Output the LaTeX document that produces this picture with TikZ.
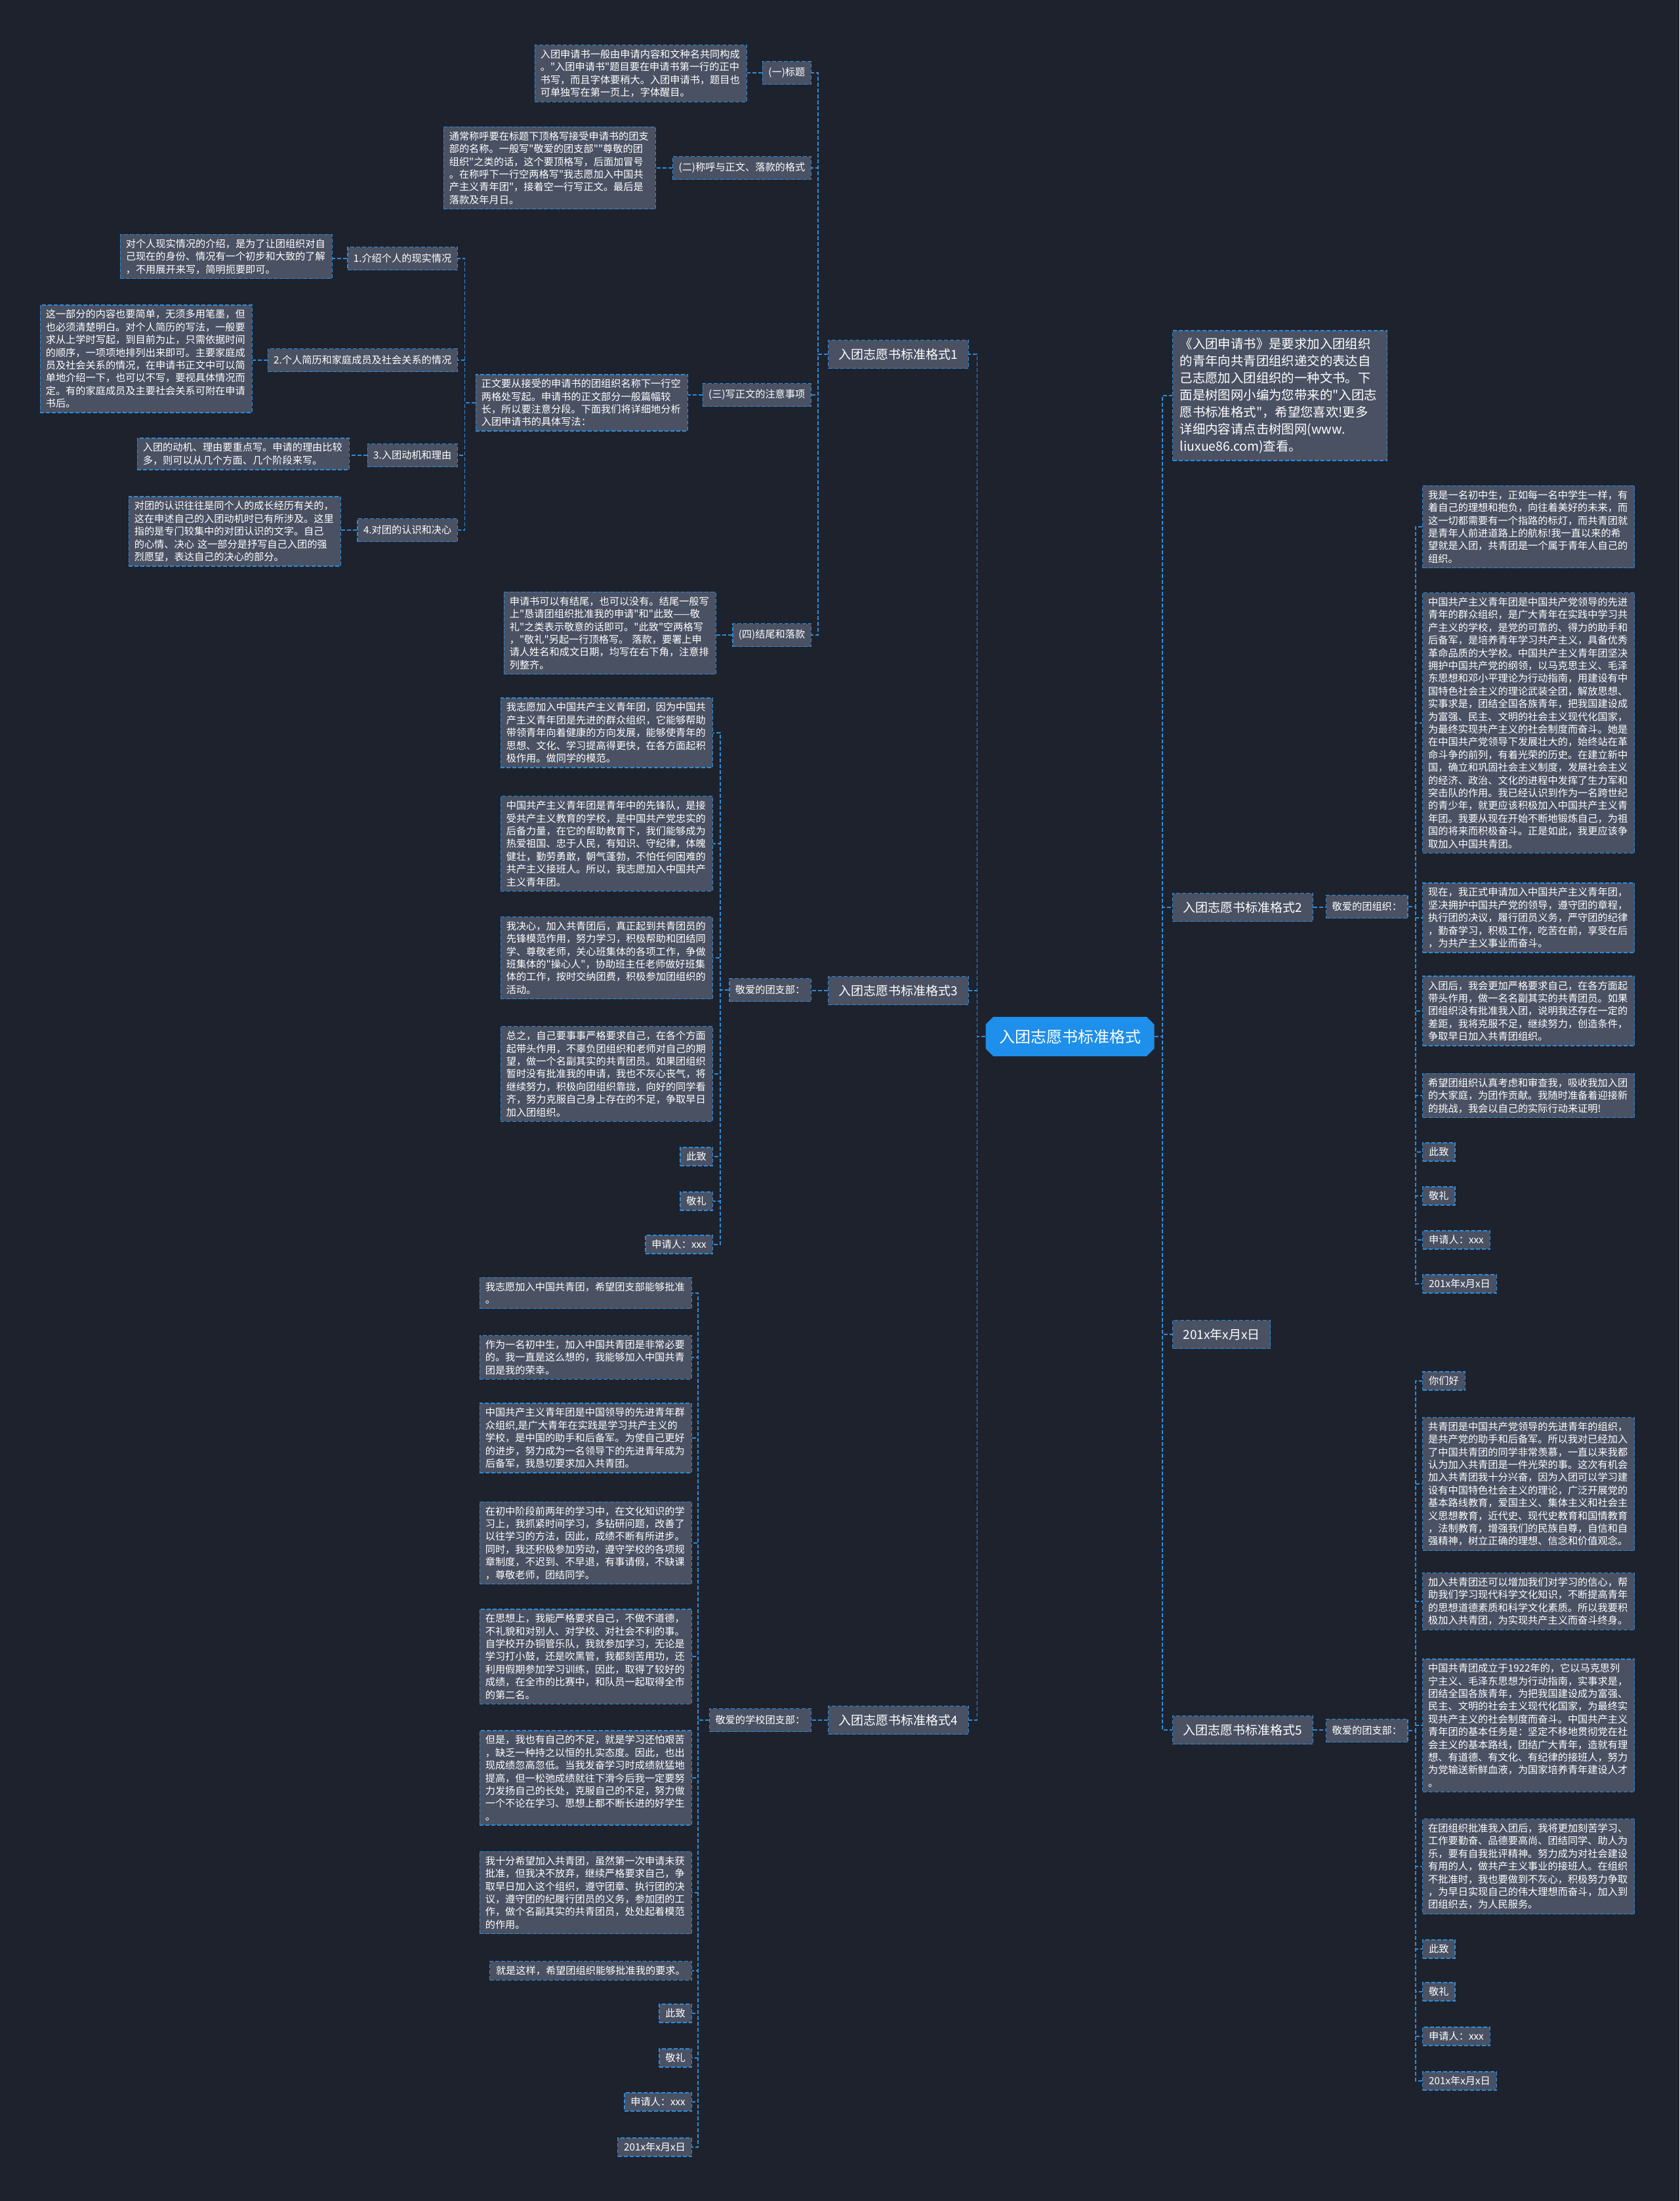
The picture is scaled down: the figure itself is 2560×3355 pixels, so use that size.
\documentclass[tikz,border=0pt]{standalone}
\usepackage{fontspec}
\setmainfont{Noto Sans CJK SC}[Ligatures=TeXOff]
\usetikzlibrary{shapes.misc}
\definecolor{bgdark}{HTML}{1E222D}
\definecolor{boxgray}{HTML}{4A5163}
\definecolor{edgeblue}{HTML}{2B8CD9}
\definecolor{rootblue}{HTML}{1E8FEA}

\begin{document}
\begin{tikzpicture}[x=1pt,y=-1pt,
  link/.style={edgeblue,line width=1.6pt,dash pattern=on 6pt off 3pt},
  box/.style={draw=edgeblue,line width=1.4pt,dash pattern=on 6pt off 3pt,fill=boxgray,text=white},
  para/.style={box,font=\fontsize{15.2pt}{19.4pt}\selectfont,text width=306pt,align=left,inner xsep=8.5pt,inner ysep=7pt},
  word/.style={box,font=\fontsize{15.2pt}{19.4pt}\selectfont,inner xsep=9.5pt,inner ysep=7pt},
  tag/.style={box,font=\fontsize{15.2pt}{18pt}\selectfont,inner xsep=9pt,minimum height=35pt},
  branch/.style={box,font=\fontsize{19pt}{23pt}\selectfont,inner xsep=16pt,minimum height=43pt},
  hub/.style={chamfered rectangle,chamfered rectangle xsep=8pt,fill=rootblue,text=white,
    font=\fontsize{24pt}{28pt}\selectfont,minimum width=257pt,minimum height=60pt}]
  \useasboundingbox (0,0) rectangle (2560,3355);
  \fill[bgdark] (0,0) rectangle (2560,3355);

  % root
  \node[hub] (main) at (1631,1580) {入团志愿书标准格式};

  % branch 1
  \node[branch,anchor=east] (fmtone) at (1477,540) {入团志愿书标准格式1};
  \node[tag,anchor=east] (title) at (1237,111) {(一)标题};
  \node[para,anchor=east] (titletxt) at (1139,112) {入团申请书一般由申请内容和文种名共同构成\\。"入团申请书"题目要在申请书第一行的正中\\书写，而且字体要稍大。入团申请书，题目也\\可单独写在第一页上，字体醒目。};
  \node[tag,anchor=east] (salut) at (1237,256) {(二)称呼与正文、落款的格式};
  \node[para,anchor=east] (saluttxt) at (1000,256) {通常称呼要在标题下顶格写接受申请书的团支\\部的名称。一般写"敬爱的团支部""尊敬的团\\组织"之类的话，这个要顶格写，后面加冒号\\。在称呼下一行空两格写"我志愿加入中国共\\产主义青年团"，接着空一行写正文。最后是\\落款及年月日。};
  \node[tag,anchor=east] (body) at (1237,602) {(三)写正文的注意事项};
  \node[para,anchor=east] (bodytxt) at (1049,614) {正文要从接受的申请书的团组织名称下一行空\\两格处写起。申请书的正文部分一般篇幅较\\长，所以要注意分段。下面我们将详细地分析\\入团申请书的具体写法：};
  \node[tag,anchor=east] (partone) at (698,394) {1.介绍个人的现实情况};
  \node[para,anchor=east] (parttxtone) at (507,391) {对个人现实情况的介绍，是为了让团组织对自\\己现在的身份、情况有一个初步和大致的了解\\，不用展开来写，简明扼要即可。};
  \node[tag,anchor=east] (parttwo) at (698,549) {2.个人简历和家庭成员及社会关系的情况};
  \node[para,anchor=east] (parttxttwo) at (385,547) {这一部分的内容也要简单，无须多用笔墨，但\\也必须清楚明白。对个人简历的写法，一般要\\求从上学时写起，到目前为止，只需依据时间\\的顺序，一项项地排列出来即可。主要家庭成\\员及社会关系的情况，在申请书正文中可以简\\单地介绍一下，也可以不写，要视具体情况而\\定。有的家庭成员及主要社会关系可附在申请\\书后。};
  \node[tag,anchor=east] (partthree) at (698,694) {3.入团动机和理由};
  \node[para,anchor=east] (parttxtthree) at (533,692) {入团的动机、理由要重点写。申请的理由比较\\多，则可以从几个方面、几个阶段来写。};
  \node[tag,anchor=east] (partfour) at (698,808) {4.对团的认识和决心};
  \node[para,anchor=east] (parttxtfour) at (520,810) {对团的认识往往是同个人的成长经历有关的，\\这在申述自己的入团动机时已有所涉及。这里\\指的是专门较集中的对团认识的文字。自己\\的心情、决心 这一部分是抒写自己入团的强\\烈愿望，表达自己的决心的部分。};
  \node[tag,anchor=east] (ending) at (1237,968) {(四)结尾和落款};
  \node[para,anchor=east] (endingtxt) at (1092,965) {申请书可以有结尾，也可以没有。结尾一般写\\上"恳请团组织批准我的申请"和"此致——敬\\礼"之类表示敬意的话即可。"此致"空两格写\\，"敬礼"另起一行顶格写。 落款，要署上申\\请人姓名和成文日期，均写在右下角，注意排\\列整齐。};

  % branch 3
  \node[branch,anchor=east] (fmtthree) at (1477,1510) {入团志愿书标准格式3};
  \node[tag,anchor=east] (dearthree) at (1237,1509) {敬爱的团支部：};
  \node[para,anchor=east] (lettera) at (1087,1117) {我志愿加入中国共产主义青年团，因为中国共\\产主义青年团是先进的群众组织，它能够帮助\\带领青年向着健康的方向发展，能够使青年的\\思想、文化、学习提高得更快，在各方面起积\\极作用。做同学的模范。};
  \node[para,anchor=east] (letterb) at (1087,1286) {中国共产主义青年团是青年中的先锋队，是接\\受共产主义教育的学校，是中国共产党忠实的\\后备力量，在它的帮助教育下，我们能够成为\\热爱祖国、忠于人民，有知识、守纪律，体魄\\健壮，勤劳勇敢，朝气蓬勃，不怕任何困难的\\共产主义接班人。所以，我志愿加入中国共产\\主义青年团。};
  \node[para,anchor=east] (letterc) at (1087,1460) {我决心，加入共青团后，真正起到共青团员的\\先锋模范作用，努力学习，积极帮助和团结同\\学、尊敬老师，关心班集体的各项工作，争做\\班集体的"操心人"，协助班主任老师做好班集\\体的工作，按时交纳团费，积极参加团组织的\\活动。};
  \node[para,anchor=east] (letterd) at (1087,1637) {总之，自己要事事严格要求自己，在各个方面\\起带头作用，不辜负团组织和老师对自己的期\\望，做一个名副其实的共青团员。如果团组织\\暂时没有批准我的申请，我也不灰心丧气，将\\继续努力，积极向团组织靠拢，向好的同学看\\齐，努力克服自己身上存在的不足，争取早日\\加入团组织。};
  \node[word,anchor=east] (greetthree) at (1087,1763) {此致};
  \node[word,anchor=east] (salutethree) at (1087,1831) {敬礼};
  \node[word,anchor=east] (signthree) at (1087,1897) {申请人：xxx};

  % branch 4
  \node[branch,anchor=east] (fmtfour) at (1477,2622) {入团志愿书标准格式4};
  \node[tag,anchor=east] (dearfour) at (1237,2622) {敬爱的学校团支部：};
  \node[para,anchor=east] (schoola) at (1055,1971) {我志愿加入中国共青团，希望团支部能够批准\\。};
  \node[para,anchor=east] (schoolb) at (1055,2069) {作为一名初中生，加入中国共青团是非常必要\\的。我一直是这么想的，我能够加入中国共青\\团是我的荣幸。};
  \node[para,anchor=east] (schoolc) at (1055,2192) {中国共产主义青年团是中国领导的先进青年群\\众组织,是广大青年在实践是学习共产主义的\\学校，是中国的助手和后备军。为使自己更好\\的进步，努力成为一名领导下的先进青年成为\\后备军，我恳切要求加入共青团。};
  \node[para,anchor=east] (schoold) at (1055,2352) {在初中阶段前两年的学习中，在文化知识的学\\习上，我抓紧时间学习，多钻研问题，改善了\\以往学习的方法，因此，成绩不断有所进步。\\同时，我还积极参加劳动，遵守学校的各项规\\章制度，不迟到、不早退，有事请假，不缺课\\，尊敬老师，团结同学。};
  \node[para,anchor=east] (schoole) at (1055,2525) {在思想上，我能严格要求自己，不做不道德，\\不礼貌和对别人、对学校、对社会不利的事。\\自学校开办铜管乐队，我就参加学习，无论是\\学习打小鼓，还是吹黑管，我都刻苦用功，还\\利用假期参加学习训练，因此，取得了较好的\\成绩，在全市的比赛中，和队员一起取得全市\\的第二名。};
  \node[para,anchor=east] (schoolf) at (1055,2710) {但是，我也有自己的不足，就是学习还怕艰苦\\，缺乏一种持之以恒的扎实态度。因此，也出\\现成绩忽高忽低。当我发奋学习时成绩就猛地\\提高，但一松弛成绩就往下滑今后我一定要努\\力发扬自己的长处，克服自己的不足，努力做\\一个不论在学习、思想上都不断长进的好学生\\。};
  \node[para,anchor=east] (schoolg) at (1055,2885) {我十分希望加入共青团，虽然第一次申请未获\\批准，但我决不放弃，继续严格要求自己，争\\取早日加入这个组织，遵守团章、执行团的决\\议，遵守团的纪履行团员的义务，参加团的工\\作，做个名副其实的共青团员，处处起着模范\\的作用。};
  \node[word,anchor=east] (schoolh) at (1055,3004) {就是这样，希望团组织能够批准我的要求。};
  \node[word,anchor=east] (greetfour) at (1055,3069) {此致};
  \node[word,anchor=east] (salutefour) at (1055,3137) {敬礼};
  \node[word,anchor=east] (signfour) at (1055,3204) {申请人：xxx};
  \node[word,anchor=east] (datefour) at (1055,3273) {201x年x月x日};

  % right side
  \node[box,anchor=west,font=\fontsize{19.4pt}{26pt}\selectfont,text width=305pt,align=left,
    inner xsep=11pt,inner ysep=11pt] (intro) at (1787,603) {《入团申请书》是要求加入团组织\\的青年向共青团组织递交的表达自\\己志愿加入团组织的一种文书。下\\面是树图网小编为您带来的"入团志\\愿书标准格式"，希望您喜欢!更多\\详细内容请点击树图网(www.\\liuxue86.com)查看。};

  % branch 2
  \node[branch,anchor=west] (fmttwo) at (1787,1383) {入团志愿书标准格式2};
  \node[tag,anchor=west] (deartwo) at (2021,1382) {敬爱的团组织：};
  \node[para,anchor=west] (joina) at (2168,803) {我是一名初中生，正如每一名中学生一样，有\\着自己的理想和抱负，向往着美好的未来，而\\这一切都需要有一个指路的标灯，而共青团就\\是青年人前进道路上的航标!我一直以来的希\\望就是入团，共青团是一个属于青年人自己的\\组织。};
  \node[para,anchor=west] (joinb) at (2168,1102) {中国共产主义青年团是中国共产党领导的先进\\青年的群众组织，是广大青年在实践中学习共\\产主义的学校，是党的可靠的、得力的助手和\\后备军，是培养青年学习共产主义，具备优秀\\革命品质的大学校。中国共产主义青年团坚决\\拥护中国共产党的纲领，以马克思主义、毛泽\\东思想和邓小平理论为行动指南，用建设有中\\国特色社会主义的理论武装全团，解放思想、\\实事求是，团结全国各族青年，把我国建设成\\为富强、民主、文明的社会主义现代化国家，\\为最终实现共产主义的社会制度而奋斗。她是\\在中国共产党领导下发展壮大的，始终站在革\\命斗争的前列，有着光荣的历史。在建立新中\\国，确立和巩固社会主义制度，发展社会主义\\的经济、政治、文化的进程中发挥了生力军和\\突击队的作用。我已经认识到作为一名跨世纪\\的青少年，就更应该积极加入中国共产主义青\\年团。我要从现在开始不断地锻炼自己，为祖\\国的将来而积极奋斗。正是如此，我更应该争\\取加入中国共青团。};
  \node[para,anchor=west] (joinc) at (2168,1399) {现在，我正式申请加入中国共产主义青年团，\\坚决拥护中国共产党的领导，遵守团的章程，\\执行团的决议，履行团员义务，严守团的纪律\\，勤奋学习，积极工作，吃苦在前，享受在后\\，为共产主义事业而奋斗。};
  \node[para,anchor=west] (joind) at (2168,1541) {入团后，我会更加严格要求自己，在各方面起\\带头作用，做一名名副其实的共青团员。如果\\团组织没有批准我入团，说明我还存在一定的\\差距，我将克服不足，继续努力，创造条件，\\争取早日加入共青团组织。};
  \node[para,anchor=west] (joine) at (2168,1670) {希望团组织认真考虑和审查我，吸收我加入团\\的大家庭，为团作贡献。我随时准备着迎接新\\的挑战，我会以自己的实际行动来证明!};
  \node[word,anchor=west] (greettwo) at (2168,1756) {此致};
  \node[word,anchor=west] (salutetwo) at (2168,1823) {敬礼};
  \node[word,anchor=west] (signtwo) at (2168,1890) {申请人：xxx};
  \node[word,anchor=west] (datetwo) at (2168,1957) {201x年x月x日};

  \node[branch,anchor=west] (datemain) at (1787,2034) {201x年x月x日};

  % branch 5
  \node[branch,anchor=west] (fmtfive) at (1787,2637) {入团志愿书标准格式5};
  \node[tag,anchor=west] (dearfive) at (2021,2638) {敬爱的团支部：};
  \node[word,anchor=west] (hellofive) at (2168,2105) {你们好};
  \node[para,anchor=west] (branchz) at (2168,2262) {共青团是中国共产党领导的先进青年的组织，\\是共产党的助手和后备军。所以我对已经加入\\了中国共青团的同学非常羡慕，一直以来我都\\认为加入共青团是一件光荣的事。这次有机会\\加入共青团我十分兴奋，因为入团可以学习建\\设有中国特色社会主义的理论，广泛开展党的\\基本路线教育，爱国主义、集体主义和社会主\\义思想教育，近代史、现代史教育和国情教育\\，法制教育，增强我们的民族自尊，自信和自\\强精神，树立正确的理想、信念和价值观念。};
  \node[para,anchor=west] (branchy) at (2168,2441) {加入共青团还可以增加我们对学习的信心，帮\\助我们学习现代科学文化知识，不断提高青年\\的思想道德素质和科学文化素质。所以我要积\\极加入共青团，为实现共产主义而奋斗终身。};
  \node[para,anchor=west] (branchx) at (2168,2630) {中国共青团成立于1922年的，它以马克思列\\宁主义、毛泽东思想为行动指南，实事求是，\\团结全国各族青年，为把我国建设成为富强、\\民主、文明的社会主义现代化国家，为最终实\\现共产主义的社会制度而奋斗。中国共产主义\\青年团的基本任务是：坚定不移地贯彻党在社\\会主义的基本路线，团结广大青年，造就有理\\想、有道德、有文化、有纪律的接班人，努力\\为党输送新鲜血液，为国家培养青年建设人才\\。};
  \node[para,anchor=west] (branchw) at (2168,2845) {在团组织批准我入团后，我将更加刻苦学习、\\工作要勤奋、品德要高尚、团结同学、助人为\\乐，要有自我批评精神。努力成为对社会建设\\有用的人，做共产主义事业的接班人。在组织\\不批准时，我也要做到不灰心，积极努力争取\\，为早日实现自己的伟大理想而奋斗，加入到\\团组织去，为人民服务。};
  \node[word,anchor=west] (greetfive) at (2168,2971) {此致};
  \node[word,anchor=west] (salutefive) at (2168,3036) {敬礼};
  \node[word,anchor=west] (signfive) at (2168,3104) {申请人：xxx};
  \node[word,anchor=west] (datefive) at (2168,3172) {201x年x月x日};

  % connectors, root
  \draw[link] (main.west) -- ++(-13,0) |- (fmtone.east)
    (main.west) -- ++(-13,0) |- (fmtthree.east)
    (main.west) -- ++(-13,0) |- (fmtfour.east);
  \draw[link] (main.east) -- ++(12,0) |- (intro.west)
    (main.east) -- ++(12,0) |- (fmttwo.west)
    (main.east) -- ++(12,0) |- (datemain.west)
    (main.east) -- ++(12,0) |- (fmtfive.west);

  % connectors, branch 1
  \draw[link] (fmtone.west) -- ++(-15,0) |- (title.east)
    (fmtone.west) -- ++(-15,0) |- (salut.east)
    (fmtone.west) -- ++(-15,0) |- (body.east)
    (fmtone.west) -- ++(-15,0) |- (ending.east);
  \draw[link] (title.west) -- (title.west -| titletxt.east);
  \draw[link] (salut.west) -- (salut.west -| saluttxt.east);
  \draw[link] (body.west) -- (body.west -| bodytxt.east);
  \draw[link] (ending.west) -- (ending.west -| endingtxt.east);
  \draw[link] (bodytxt.west) -- ++(-16,0) |- (partone.east)
    (bodytxt.west) -- ++(-16,0) |- (parttwo.east)
    (bodytxt.west) -- ++(-16,0) |- (partthree.east)
    (bodytxt.west) -- ++(-16,0) |- (partfour.east);
  \draw[link] (partone.west) -- (partone.west -| parttxtone.east);
  \draw[link] (parttwo.west) -- (parttwo.west -| parttxttwo.east);
  \draw[link] (partthree.west) -- (partthree.west -| parttxtthree.east);
  \draw[link] (partfour.west) -- (partfour.west -| parttxtfour.east);

  % connectors, branch 3
  \draw[link] (fmtthree.west) -- (fmtthree.west -| dearthree.east);
  \draw[link] (dearthree.west) -- ++(-13,0) |- (lettera.east)
    (dearthree.west) -- ++(-13,0) |- (letterb.east)
    (dearthree.west) -- ++(-13,0) |- (letterc.east)
    (dearthree.west) -- ++(-13,0) |- (letterd.east)
    (dearthree.west) -- ++(-13,0) |- (greetthree.east)
    (dearthree.west) -- ++(-13,0) |- (salutethree.east)
    (dearthree.west) -- ++(-13,0) |- (signthree.east);

  % connectors, branch 4
  \draw[link] (fmtfour.west) -- (fmtfour.west -| dearfour.east);
  \draw[link] (dearfour.west) -- ++(-17,0) |- (schoola.east)
    (dearfour.west) -- ++(-17,0) |- (schoolb.east)
    (dearfour.west) -- ++(-17,0) |- (schoolc.east)
    (dearfour.west) -- ++(-17,0) |- (schoold.east)
    (dearfour.west) -- ++(-17,0) |- (schoole.east)
    (dearfour.west) -- ++(-17,0) |- (schoolf.east)
    (dearfour.west) -- ++(-17,0) |- (schoolg.east)
    (dearfour.west) -- ++(-17,0) |- (schoolh.east)
    (dearfour.west) -- ++(-17,0) |- (greetfour.east)
    (dearfour.west) -- ++(-17,0) |- (salutefour.east)
    (dearfour.west) -- ++(-17,0) |- (signfour.east)
    (dearfour.west) -- ++(-17,0) |- (datefour.east);

  % connectors, branch 2
  \draw[link] (fmttwo.east) -- (fmttwo.east -| deartwo.west);
  \draw[link] (deartwo.east) -- ++(11,0) |- (joina.west)
    (deartwo.east) -- ++(11,0) |- (joinb.west)
    (deartwo.east) -- ++(11,0) |- (joinc.west)
    (deartwo.east) -- ++(11,0) |- (joind.west)
    (deartwo.east) -- ++(11,0) |- (joine.west)
    (deartwo.east) -- ++(11,0) |- (greettwo.west)
    (deartwo.east) -- ++(11,0) |- (salutetwo.west)
    (deartwo.east) -- ++(11,0) |- (signtwo.west)
    (deartwo.east) -- ++(11,0) |- (datetwo.west);

  % connectors, branch 5
  \draw[link] (fmtfive.east) -- (fmtfive.east -| dearfive.west);
  \draw[link] (dearfive.east) -- ++(11,0) |- (hellofive.west)
    (dearfive.east) -- ++(11,0) |- (branchz.west)
    (dearfive.east) -- ++(11,0) |- (branchy.west)
    (dearfive.east) -- ++(11,0) |- (branchx.west)
    (dearfive.east) -- ++(11,0) |- (branchw.west)
    (dearfive.east) -- ++(11,0) |- (greetfive.west)
    (dearfive.east) -- ++(11,0) |- (salutefive.west)
    (dearfive.east) -- ++(11,0) |- (signfive.west)
    (dearfive.east) -- ++(11,0) |- (datefive.west);
\end{tikzpicture}
\end{document}
